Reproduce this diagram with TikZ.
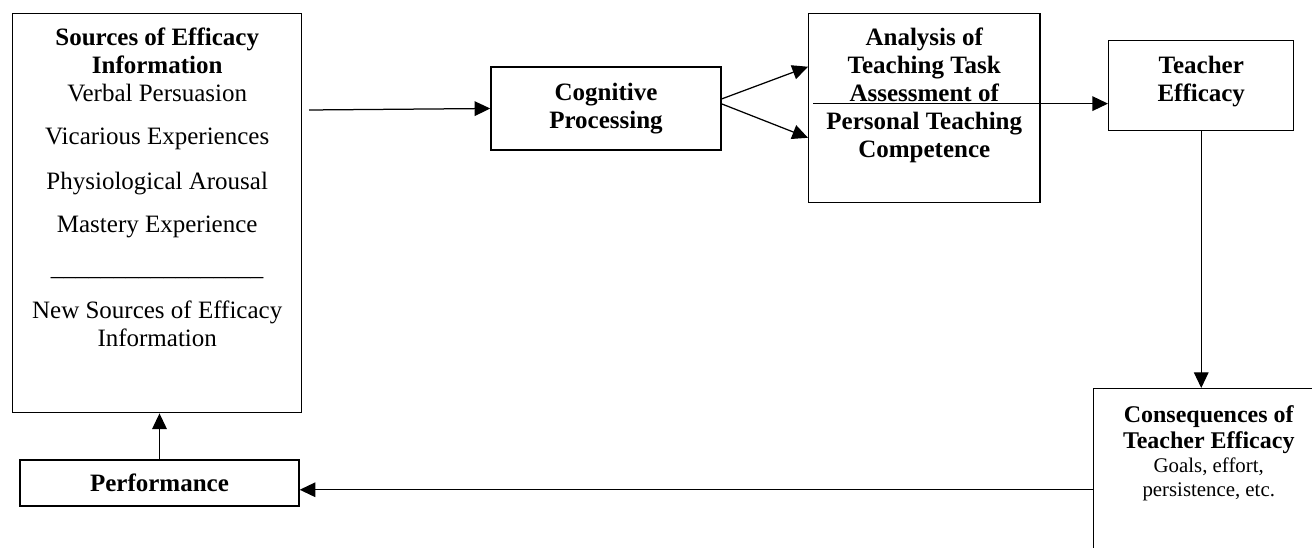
\documentclass[tikz,border=0pt]{standalone}
\usepackage{fontspec}
\setmainfont{Liberation Serif}
\usetikzlibrary{arrows.meta}

\begin{document}
\begin{tikzpicture}[
    x=0.48pt, y=-0.48pt,
    font=\fontsize{12}{13.4}\selectfont,
    box/.style={draw, line width=0.7pt, inner sep=0pt, align=center},
    arrow/.style={-{Triangle[length=7.5pt, width=7pt]}, line width=0.6pt}
]
\useasboundingbox (0,0) rectangle (1312,548);
\clip (0,0) rectangle (1312,548);

% Sources of efficacy information
\node[box, anchor=north west] (sources) at (12,13) {\parbox[c][191.5pt][t]{138.7pt}{\centering\rule{0pt}{15.4pt}\textbf{Sources of Efficacy\\Information}\\
    Verbal Persuasion\\[7pt]
    Vicarious Experiences\\[8.5pt]
    Physiological Arousal\\[7pt]
    Mastery Experience\\[7.5pt]
    \_\_\_\_\_\_\_\_\_\_\_\_\_\_\_\_\_\\[7pt]
    New Sources of Efficacy\\Information}};

\node[box, font=\fontsize{12}{13.4}\selectfont\bfseries, minimum width=110.4pt, minimum height=39.8pt] (cog) at (606,108.5) {Cognitive\\Processing};

\node[box, anchor=north west] (ana) at (808,13) {\parbox[c][90.7pt][t]{110.9pt}{\centering\rule{0pt}{15.4pt}\textbf{Analysis of\\Teaching Task\\Assessment of\\Personal Teaching\\Competence}}};

\node[box, anchor=north west] (te) at (1108,40) {\parbox[c][43.2pt][t]{88.8pt}{\centering\rule{0pt}{15.8pt}\textbf{Teacher\\Efficacy}}};

% Consequences (runs off the page)
\node[box, anchor=north west] (cons) at (1093,388) {\parbox[c][82.6pt][t]{110.4pt}{\centering
    {\fontsize{11.5}{12.5}\selectfont\rule{0pt}{16.3pt}\textbf{Consequences of\\Teacher Efficacy}\par}
    {\fontsize{10}{11.5}\selectfont Goals, effort,\\persistence, etc.\par}}};

\node[box, font=\fontsize{12}{13.4}\selectfont\bfseries, minimum width=133.9pt, minimum height=22.1pt] (perf) at (159.5,483) {Performance};

% Arrows
\coordinate (in) at (309,110);
\draw[arrow] (in) -- (cog.west);
\draw[arrow] ([yshift=4.6pt]cog.east) -- ([yshift=19.9pt]ana.west);
\draw[arrow] ([yshift=2.2pt]cog.east) -- ([yshift=-14.2pt]ana.west);
\draw[arrow] ([xshift=2.4pt, yshift=2.2pt]ana.west) coordinate (p) -- (p -| te.west);
\draw[arrow] (te.south) -- (te.south |- cons.north);
\draw[arrow] ([yshift=-7.2pt]cons.west) coordinate (q) -- (q -| perf.east);
\draw[arrow] (perf.north) -- (perf.north |- sources.south);

\end{tikzpicture}
\end{document}
